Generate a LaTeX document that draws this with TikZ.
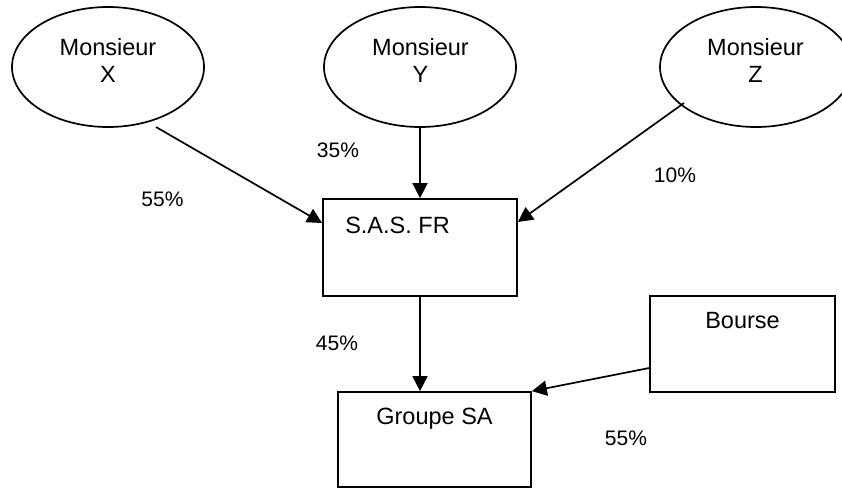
\documentclass[tikz,border=0pt]{standalone}
\usepackage{fontspec}
\setmainfont{Liberation Sans}
\usetikzlibrary{shapes.geometric,arrows.meta}
\begin{document}
\begin{tikzpicture}[x=1pt,y=-1pt,
  line width=1.7pt,
  person/.style={draw,ellipse,minimum width=192pt,minimum height=120pt,inner sep=0pt},
  entity/.style={draw,rectangle,inner sep=0pt},
  boxtext/.style={anchor=base,inner sep=0pt,font=\fontsize{23.5}{26.5}\selectfont},
  pct/.style={anchor=base,inner sep=0pt,font=\fontsize{21}{24}\selectfont},
  arr/.style={-{Triangle[length=15pt,width=15pt]}}]
\useasboundingbox (0,0) rectangle (842,488);

% shareholders
\node[person] (mx) at (108,67) {};
\node[person] (my) at (420,67) {};
\node[person] (mz) at (756,67) {};
\node[boxtext] (mxa) at (108,55) {Monsieur};
\node[boxtext] (mxb) at (108,82) {X};
\node[boxtext] (mya) at (420.5,55) {Monsieur};
\node[boxtext] (myb) at (420.5,82) {Y};
\node[boxtext] (mza) at (755.5,55) {Monsieur};
\node[boxtext] (mzb) at (755.5,82) {Z};

% companies
\node[entity,minimum width=194pt,minimum height=97pt] (sas) at (420,247.5) {};
\node[entity,minimum width=193pt,minimum height=95pt] (groupe) at (434.5,439.5) {};
\node[entity,minimum width=185pt,minimum height=96pt] (bourse) at (742.5,344) {};
\node[boxtext] (sast) at (397.5,233) {S.A.S. FR};
\node[boxtext] (groupet) at (434.5,424.5) {Groupe SA};
\node[boxtext] (bourset) at (742.5,328) {Bourse};

% holdings
\coordinate (xstart) at (156,127);
\coordinate (zstart) at (684,103);
\draw[arr] (xstart) -- ([yshift=24.5pt]sas.west);
\draw[arr] (my.south) -- (sas.north);
\draw[arr] (zstart) -- ([yshift=25.5pt]sas.east);
\draw[arr] (sas.south) -- (sas.south |- groupe.north);
\draw[arr] ([yshift=-24pt]bourse.west) -- (groupe.north east);

% percentages
\node[pct] (p35) at (338,157.5) {35\%};
\node[pct] (p55a) at (162.5,206) {55\%};
\node[pct] (p10) at (675,182) {10\%};
\node[pct] (p45) at (337,350) {45\%};
\node[pct] (p55b) at (626,445) {55\%};
\end{tikzpicture}
\end{document}
